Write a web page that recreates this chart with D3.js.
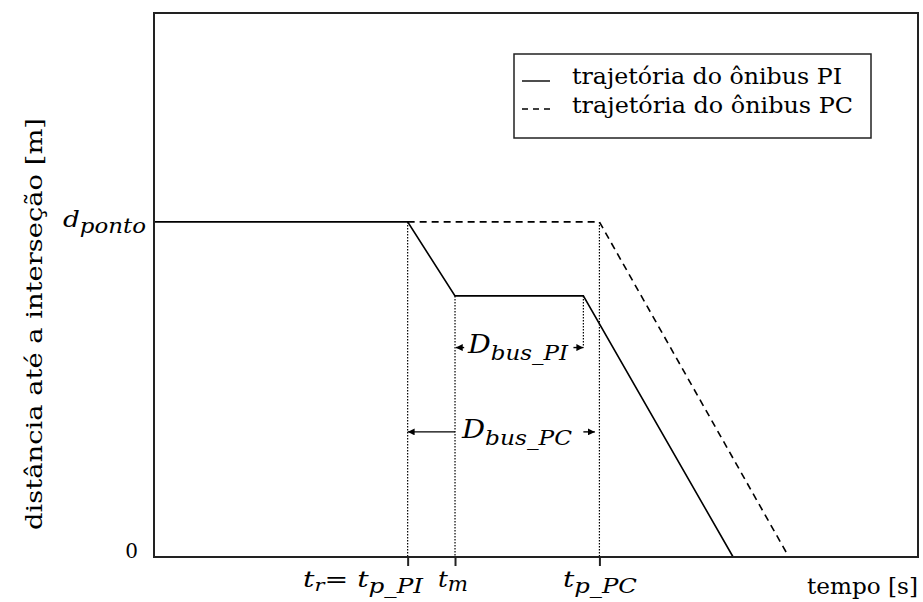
<!DOCTYPE html>
<html>
<head>
<meta charset="utf-8">
<script src="https://cdn.jsdelivr.net/npm/d3@7"></script>
<style>
  body { margin: 0; background: #fff; }
  svg { display: block; }
</style>
</head>
<body>
<div id="chart"></div>
<script>
// key instants on the time axis (arbitrary units, 0..100)
var tR = 33.2, tM = 39.4, tSaida = 56.2, tPC = 58.3, tFimPI = 75.8, tFimPC = 83.1;
// key distances (arbitrary units, 0..100)
var dPonto = 61.6, dMeio = 48.0;

var trajPI = [[0, dPonto], [tR, dPonto], [tM, dMeio], [tSaida, dMeio], [tFimPI, 0]];
var trajPC = [[tR, dPonto], [tPC, dPonto], [tFimPC, 0]];

// dotted helper lines: [t, top, bottom]
var guias = [[tR, dPonto, 0], [tM, dMeio, 0], [tPC, dPonto, 0], [tSaida, dMeio, 38.5]];
var xTicks = [tR, tM, tPC];

var legenda = ["trajetória do ônibus PI", "trajetória do ônibus PC"];

var FONTE = "'DejaVu Serif', 'Liberation Serif', serif";

var W = 923, H = 602;
var margin = {top: 13, right: 5, bottom: 45, left: 154};
var width = W - margin.left - margin.right,
    height = H - margin.top - margin.bottom;

var svg = d3.select("#chart").append("svg")
  .attr("width", W).attr("height", H)
  .attr("font-family", FONTE);

var defs = svg.append("defs");
defs.append("marker")
  .attr("id", "seta")
  .attr("viewBox", "0 0 10 10")
  .attr("refX", 10).attr("refY", 5)
  .attr("markerWidth", 7).attr("markerHeight", 7)
  .attr("markerUnits", "userSpaceOnUse")
  .attr("orient", "auto-start-reverse")
  .append("path").attr("d", "M0,0 L10,5 L0,10 z").attr("fill", "#000");

var g = svg.append("g")
  .attr("transform", "translate(" + margin.left + "," + margin.top + ")");

var x = d3.scaleLinear().domain([0, 100]).range([0, width]);
var y = d3.scaleLinear().domain([0, 100]).range([height, 0]);

// dotted guides
g.selectAll(".guia")
  .data(guias)
  .enter().append("line")
  .attr("x1", d => x(d[0])).attr("x2", d => x(d[0]))
  .attr("y1", d => y(d[1])).attr("y2", d => y(d[2]))
  .attr("stroke", "#000").attr("stroke-width", 1.2)
  .attr("stroke-dasharray", "1.5,1.5");

var line = d3.line().x(d => x(d[0])).y(d => y(d[1]));

g.append("path").datum(trajPC)
  .attr("fill", "none").attr("stroke", "#000").attr("stroke-width", 1.6)
  .attr("stroke-dasharray", "7,5")
  .attr("d", line);

g.append("path").datum(trajPI)
  .attr("fill", "none").attr("stroke", "#000").attr("stroke-width", 1.6)
  .attr("d", line);

// frame
g.append("rect")
  .attr("x", 0).attr("y", 0).attr("width", width).attr("height", height)
  .attr("fill", "none").attr("stroke", "#222").attr("stroke-width", 2);

// bottom ticks
var xAxis = g.append("g")
  .attr("transform", "translate(0," + height + ")")
  .call(d3.axisBottom(x).tickValues(xTicks).tickSize(9).tickFormat(""));
xAxis.select(".domain").remove();
xAxis.selectAll("line").attr("stroke", "#222").attr("stroke-width", 2);

// italic letter(s) with subscript, squeezed/stretched to a given width
function rotulo(sel, partes, px, py, larg, anchor) {
  var t = sel.append("text").attr("x", px).attr("y", py)
    .attr("font-family", FONTE)
    .attr("text-anchor", anchor || "start")
    .attr("textLength", larg).attr("lengthAdjust", "spacingAndGlyphs");
  var base = 0;
  partes.forEach(function(p) {
    var off = p.sub ? (p.off || 6) : 0;
    t.append("tspan")
      .attr("dy", off - base)
      .attr("font-size", p.size)
      .attr("font-style", p.italic === false ? "normal" : "italic")
      .text(p.txt);
    base = off;
  });
  return t;
}

// x labels
rotulo(g, [{txt: "t", size: 23}, {txt: "r", size: 17, sub: true, off: 4},
           {txt: "= ", size: 23, italic: false},
           {txt: "t", size: 23}, {txt: "p_PI", size: 20, sub: true}],
       303 - margin.left, 587 - margin.top, 120);
rotulo(g, [{txt: "t", size: 23}, {txt: "m", size: 20, sub: true, off: 4}],
       438 - margin.left, 587 - margin.top, 30);
rotulo(g, [{txt: "t", size: 23}, {txt: "p_PC", size: 20, sub: true}],
       563 - margin.left, 587 - margin.top, 74);

g.append("text")
  .attr("x", width).attr("y", height + 37)
  .attr("text-anchor", "end")
  .attr("font-size", 22)
  .attr("textLength", 111).attr("lengthAdjust", "spacingAndGlyphs")
  .text("tempo [s]");

// y labels
g.append("text")
  .attr("x", -16).attr("y", y(0) + 1)
  .attr("text-anchor", "end").attr("font-size", 20)
  .text("0");
rotulo(g, [{txt: "d", size: 23}, {txt: "ponto", size: 20, sub: true}],
       63 - margin.left, y(dPonto) + 5, 83);

g.append("text")
  .attr("transform", "translate(" + (-112) + "," + (324 - margin.top) + ") rotate(-90)")
  .attr("text-anchor", "middle")
  .attr("font-size", 22)
  .attr("textLength", 412).attr("lengthAdjust", "spacingAndGlyphs")
  .text("distância até a interseção [m]");

// interval arrows
var yPI = 38.5, yPCa = 23.0;
var setas = [[tM + 1.2, tM + 0.1, yPI], [tSaida - 1.3, tSaida, yPI],
             [tM, tR, yPCa], [tPC - 2.1, tPC - 0.6, yPCa]];
g.selectAll(".seta")
  .data(setas)
  .enter().append("line")
  .attr("x1", d => x(d[0])).attr("x2", d => x(d[1]))
  .attr("y1", d => y(d[2])).attr("y2", d => y(d[2]))
  .attr("stroke", "#000").attr("stroke-width", 1.4)
  .attr("marker-end", "url(#seta)");

rotulo(g, [{txt: "D", size: 26}, {txt: "bus_PI", size: 21, sub: true, off: 7}],
       468 - margin.left, 353 - margin.top, 100);
rotulo(g, [{txt: "D", size: 26}, {txt: "bus_PC", size: 21, sub: true, off: 7}],
       462 - margin.left, 438 - margin.top, 110);

// legend
var leg = svg.append("g").attr("transform", "translate(514,54)");
leg.append("rect")
  .attr("width", 357).attr("height", 84)
  .attr("fill", "#fff").attr("stroke", "#222").attr("stroke-width", 1.5);
leg.selectAll(".amostra")
  .data(legenda)
  .enter().append("line")
  .attr("x1", 8).attr("x2", (d, i) => i === 0 ? 36 : 38)
  .attr("y1", (d, i) => 27 + i * 28).attr("y2", (d, i) => 27 + i * 28)
  .attr("stroke", "#000").attr("stroke-width", 1.4)
  .attr("stroke-dasharray", (d, i) => i === 0 ? null : "6,5");
leg.selectAll(".txt")
  .data(legenda)
  .enter().append("text")
  .attr("x", 58)
  .attr("y", (d, i) => 30 + i * 29)
  .attr("font-size", 22)
  .attr("textLength", (d, i) => i === 0 ? 270 : 281)
  .attr("lengthAdjust", "spacingAndGlyphs")
  .text(d => d);
</script>
</body>
</html>
